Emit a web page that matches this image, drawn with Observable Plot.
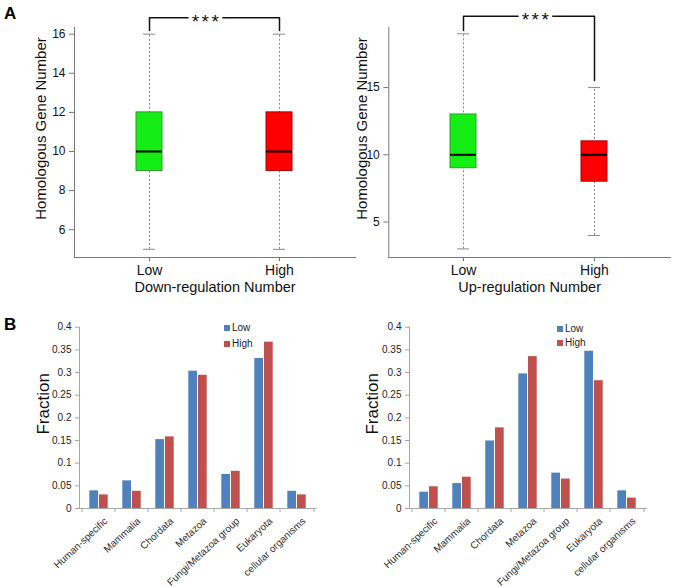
<!DOCTYPE html>
<html>
<head>
<meta charset="utf-8">
<script src="https://cdn.jsdelivr.net/npm/d3@7"></script>
<script src="https://cdn.jsdelivr.net/npm/@observablehq/plot@0.6"></script>
<style>
  html, body { margin: 0; padding: 0; background: white; }
  #wrap { position: relative; width: 673px; height: 587px; background: white; overflow: hidden;
          font-family: "Liberation Sans", Arial, Helvetica, sans-serif; }
  .panel { position: absolute; }
  .letter { position: absolute; font-weight: bold; font-size: 17px; line-height: 1; color: #000; }
  .leg { position: absolute; font-size: 10px; line-height: 1; color: #222; white-space: nowrap; }
  .leg span.sw { display: inline-block; width: 6px; height: 6px; margin-right: 2px; vertical-align: 0px; }
</style>
</head>
<body>
<div id="wrap">
  <div class="letter" style="left:4px;top:5px">A</div>
  <div class="letter" style="left:4px;top:316px">B</div>
  <div class="panel" id="a1" style="left:0px;top:0px"></div>
  <div class="panel" id="a2" style="left:330px;top:0px"></div>
  <div class="panel" id="b1" style="left:0px;top:300px"></div>
  <div class="panel" id="b2" style="left:330px;top:300px"></div>
  <div class="leg" style="left:224px;top:323px"><span class="sw" style="background:#4F81BD"></span>Low</div>
  <div class="leg" style="left:224px;top:339px"><span class="sw" style="background:#C0504D"></span>High</div>
  <div class="leg" style="left:557px;top:324px"><span class="sw" style="background:#4F81BD"></span>Low</div>
  <div class="leg" style="left:557px;top:338px"><span class="sw" style="background:#C0504D"></span>High</div>
</div>
<script>
// ---------- Data ----------
const groups = ["Low", "High"];

// Panel A (left): Down-regulation Number
const downMin = [5, 5];
const downQ1 = [9, 9];
const downMedian = [10, 10];
const downQ3 = [12, 12];
const downMax = [16, 16];
const downBracket = [16.19, 16.84, 16.19];   // left end, top, right end
const downTicks = [6, 8, 10, 12, 14, 16];

// Panel A (right): Up-regulation Number
const upMin = [3, 4];
const upQ1 = [9, 8];
const upMedian = [10, 10];
const upQ3 = [13, 11];
const upMax = [19, 15];
const upBracket = [19.25, 20.31, 15.53];
const upTicks = [5, 10, 15];

// Panel B
const categories = ["Human-specific", "Mammalia", "Chordata", "Metazoa", "Fungi/Metazoa group", "Eukaryota", "cellular organisms"];
const downLow  = [0.039, 0.061, 0.152, 0.303, 0.075, 0.331, 0.038];
const downHigh = [0.030, 0.038, 0.158, 0.294, 0.082, 0.367, 0.030];
const upLow    = [0.036, 0.055, 0.149, 0.297, 0.078, 0.347, 0.039];
const upHigh   = [0.048, 0.069, 0.178, 0.335, 0.065, 0.282, 0.023];
const fracTicks = [0, 0.05, 0.1, 0.15, 0.2, 0.25, 0.3, 0.35, 0.4];

const FONT = "Liberation Sans, Arial, Helvetica, sans-serif";

function boxPanel({min, q1, med, q3, max, bracket, ticks, domain, xLabel, yLabel, yLabelDx, starDx, width, marginLeft}) {
  const stats = groups.map((g, i) => ({group: g, min: min[i], q1: q1[i], med: med[i], q3: q3[i], max: max[i]}));
  const br = [
    {x: groups[0], y: bracket[0]},
    {x: groups[0], y: bracket[1]},
    {x: groups[1], y: bracket[1]},
    {x: groups[1], y: bracket[2]}
  ];
  const svg = Plot.plot({
    width, height: 300,
    marginLeft, marginRight: 3, marginTop: 27, marginBottom: 43,
    style: {background: "transparent", overflow: "visible", fontFamily: FONT, color: "#000"},
    x: {type: "band", domain: groups, paddingInner: 0.798, paddingOuter: 0.474, align: 0.5, label: null},
    y: {domain, label: null},
    color: {domain: groups, range: ["#14EE14", "#FF0000"]},
    marks: [
      Plot.frame({anchor: "left", stroke: "#777"}),
      Plot.frame({anchor: "bottom", stroke: "#777"}),
      Plot.axisY({ticks, tickSize: 5, tickPadding: 4, fontSize: 12, stroke: "#777", fill: "#111", label: null}),
      Plot.axisX({tickSize: 4, tickPadding: 4, fontSize: 14, stroke: "#777", fill: "#111", label: null}),
      Plot.ruleX(stats, {x: "group", y1: "min", y2: "max", stroke: "#888", strokeDasharray: "2,2"}),
      Plot.tickY(stats, {x: "group", y: "max", stroke: "#888", insetLeft: 7, insetRight: 7}),
      Plot.tickY(stats, {x: "group", y: "min", stroke: "#888", insetLeft: 7, insetRight: 7}),
      Plot.barY(stats, {x: "group", y1: "q1", y2: "q3", fill: "group", stroke: d => d.group === "Low" ? "#2E9E2E" : "#A80000", strokeWidth: 1}),
      Plot.tickY(stats, {x: "group", y: "med", stroke: "#000", strokeWidth: 2}),
      Plot.line(br, {x: "x", y: "y", stroke: "#111", strokeWidth: 1.5}),
      Plot.text(["***"], {x: () => groups[0], y: () => bracket[1], dx: starDx, dy: 10, lineAnchor: "bottom", fontSize: 19, fill: "#111", stroke: "white", strokeWidth: 7}),
      Plot.text([yLabel], {frameAnchor: "left", textAnchor: "middle", lineAnchor: "middle", rotate: -90, dx: yLabelDx, dy: -14, fontSize: 15, fill: "#111"}),
      Plot.text([xLabel], {frameAnchor: "bottom", textAnchor: "middle", dy: 34, lineAnchor: "bottom", fontSize: 14.5, fill: "#111"})
    ]
  });
  d3.select(svg).selectAll("text").filter(function() { return this.textContent === "***"; }).attr("letter-spacing", 2.5);
  return svg;
}

function barPanel({low, high, yLabelDx}) {
  const rows = categories.map((c, i) => ({cat: c, low: low[i], high: high[i]}));
  const width = 330, ml = 79, mr = 13.3;
  const bw = (width - ml - mr) / categories.length;
  const gap = 7.3;
  const barW = (bw - 2 * gap) / 2;
  return Plot.plot({
    width, height: 287,
    marginLeft: ml, marginRight: mr, marginTop: 26.7, marginBottom: 79,
    style: {background: "transparent", overflow: "visible", fontFamily: FONT, color: "#000"},
    x: {type: "band", domain: categories, padding: 0, label: null},
    y: {domain: [0, 0.4], label: null},
    marks: [
      Plot.barY(rows, {x: "cat", y: "low", fill: "#4F81BD", insetLeft: gap, insetRight: gap + barW}),
      Plot.barY(rows, {x: "cat", y: "high", fill: "#C0504D", insetLeft: gap + barW, insetRight: gap}),
      Plot.frame({anchor: "left", stroke: "#A6A6A6"}),
      Plot.ruleY([0], {stroke: "#A6A6A6"}),
      Plot.axisY({ticks: fracTicks, tickSize: 4, tickPadding: 4, fontSize: 10, stroke: "#A6A6A6", fill: "#222",
                  tickFormat: d => String(+d.toFixed(2)), label: null}),
      Plot.axisX({ticks: categories, tickSize: 4, dx: -bw / 2, stroke: "#A6A6A6", tickFormat: () => "", label: null}),
      Plot.axisX({ticks: categories.slice(-1), tickSize: 4, dx: bw / 2, stroke: "#A6A6A6", tickFormat: () => "", label: null}),
      Plot.axisX({tickSize: 0, tickPadding: 11, tickRotate: -43, fontSize: 10, fill: "#333", dx: 7, label: null}),
      Plot.text(["Fraction"], {frameAnchor: "left", textAnchor: "middle", lineAnchor: "middle", rotate: -90, dx: yLabelDx, dy: -14, fontSize: 17, fill: "#111"})
    ]
  });
}

document.getElementById("a1").append(boxPanel({
  min: downMin, q1: downQ1, med: downMedian, q3: downQ3, max: downMax,
  bracket: downBracket, ticks: downTicks, domain: [4.58, 16.34],
  xLabel: "Down-regulation Number", yLabel: "Homologous Gene Number", yLabelDx: -33.3,
  starDx: 57, width: 358, marginLeft: 74
}));
document.getElementById("a2").append(boxPanel({
  min: upMin, q1: upQ1, med: upMedian, q3: upQ3, max: upMax,
  bracket: upBracket, ticks: upTicks, domain: [2.36, 19.47],
  xLabel: "Up-regulation Number", yLabel: "Homologous Gene Number", yLabelDx: -26.6,
  starDx: 73, width: 343, marginLeft: 58.3
}));
document.getElementById("b1").append(barPanel({low: downLow, high: downHigh, yLabelDx: -35.7}));
document.getElementById("b2").append(barPanel({low: upLow, high: upHigh, yLabelDx: -37.3}));
</script>
</body>
</html>
